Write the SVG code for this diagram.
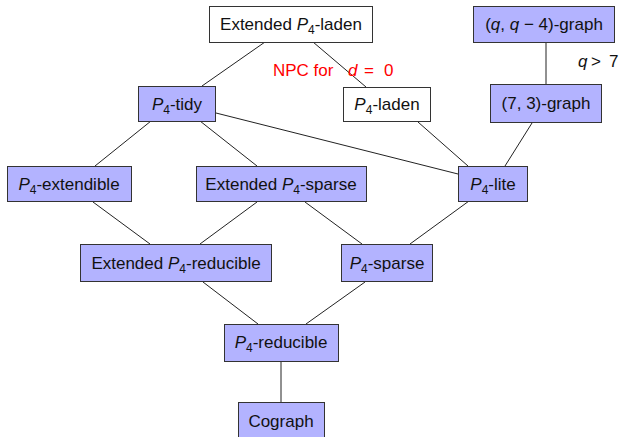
<svg xmlns="http://www.w3.org/2000/svg" width="621" height="437" viewBox="0 0 621 437">
<style>
.b{fill:#b3b3ff;stroke:#333;stroke-width:1}
.w{fill:#fff;stroke:#333;stroke-width:1}
text{font-family:"Liberation Sans",Arial,sans-serif;font-size:17px;fill:#111;text-anchor:middle}
.i{font-style:italic}
.s{font-size:12px}
#edges line{stroke:#222;stroke-width:1}
.r{fill:#f00}
.l{text-anchor:start}
</style>
<rect width="621" height="437" fill="#fff"/>
<g id="edges">
<line x1="265" y1="42" x2="202" y2="86"/>
<line x1="313" y1="42" x2="366" y2="87"/>
<line x1="216" y1="113" x2="458" y2="174"/>
<line x1="151" y1="121" x2="95" y2="166"/>
<line x1="200" y1="121" x2="257" y2="166"/>
<line x1="418" y1="122" x2="468" y2="166"/>
<line x1="532" y1="123" x2="505" y2="166"/>
<line x1="546" y1="42" x2="546" y2="84"/>
<line x1="93" y1="202" x2="150" y2="244"/>
<line x1="257" y1="202" x2="200" y2="244"/>
<line x1="305" y1="202" x2="362" y2="244"/>
<line x1="469" y1="201" x2="410" y2="244"/>
<line x1="203" y1="282" x2="258" y2="324"/>
<line x1="365" y1="282" x2="306" y2="324"/>
<line x1="281" y1="361" x2="281" y2="402"/>
</g>
<g id="ext-laden"><rect class="w" x="209.5" y="6.5" width="163" height="36"/><text x="291" y="30">Extended <tspan class="i">P</tspan><tspan class="s" dy="4">4</tspan><tspan dy="-4">-laden</tspan></text></g>
<g id="qq4"><rect class="b" x="473.5" y="6.5" width="141" height="36"/><text x="544" y="30">(<tspan class="i">q</tspan>, <tspan class="i">q</tspan> − 4)-graph</text></g>
<g id="tidy"><rect class="b" x="138.5" y="86.5" width="77" height="35"/><text x="177" y="110"><tspan class="i">P</tspan><tspan class="s" dy="4">4</tspan><tspan dy="-4">-tidy</tspan></text></g>
<g id="laden"><rect class="w" x="343.5" y="87.5" width="87" height="34"/><text x="387" y="110"><tspan class="i">P</tspan><tspan class="s" dy="4">4</tspan><tspan dy="-4">-laden</tspan></text></g>
<g id="g73"><rect class="b" x="490.5" y="84.5" width="111" height="38"/><text x="546" y="109">(7, 3)-graph</text></g>
<g id="extendible"><rect class="b" x="7.5" y="166.5" width="124" height="35"/><text x="69" y="190"><tspan class="i">P</tspan><tspan class="s" dy="4">4</tspan><tspan dy="-4">-extendible</tspan></text></g>
<g id="ext-sparse"><rect class="b" x="196.5" y="166.5" width="170" height="35"/><text x="281" y="190">Extended <tspan class="i">P</tspan><tspan class="s" dy="4">4</tspan><tspan dy="-4">-sparse</tspan></text></g>
<g id="lite"><rect class="b" x="458.5" y="166.5" width="69" height="35"/><text x="493" y="190"><tspan class="i">P</tspan><tspan class="s" dy="4">4</tspan><tspan dy="-4">-lite</tspan></text></g>
<g id="ext-reducible"><rect class="b" x="80.5" y="244.5" width="191" height="37"/><text x="176" y="269">Extended <tspan class="i">P</tspan><tspan class="s" dy="4">4</tspan><tspan dy="-4">-reducible</tspan></text></g>
<g id="sparse"><rect class="b" x="341.5" y="244.5" width="91" height="37"/><text x="387" y="269"><tspan class="i">P</tspan><tspan class="s" dy="4">4</tspan><tspan dy="-4">-sparse</tspan></text></g>
<g id="reducible"><rect class="b" x="224.5" y="324.5" width="114" height="37"/><text x="281" y="348"><tspan class="i">P</tspan><tspan class="s" dy="4">4</tspan><tspan dy="-4">-reducible</tspan></text></g>
<g id="cograph"><rect class="b" x="238.5" y="402.5" width="86" height="36"/><text x="281" y="427">Cograph</text></g>
<text class="r l" x="273" y="76">NPC for<tspan class="i" x="348">d</tspan><tspan x="364">=</tspan><tspan x="384">0</tspan></text>
<text class="l" x="578" y="67"><tspan class="i">q</tspan><tspan x="591">&gt;</tspan><tspan x="609">7</tspan></text>
</svg>
